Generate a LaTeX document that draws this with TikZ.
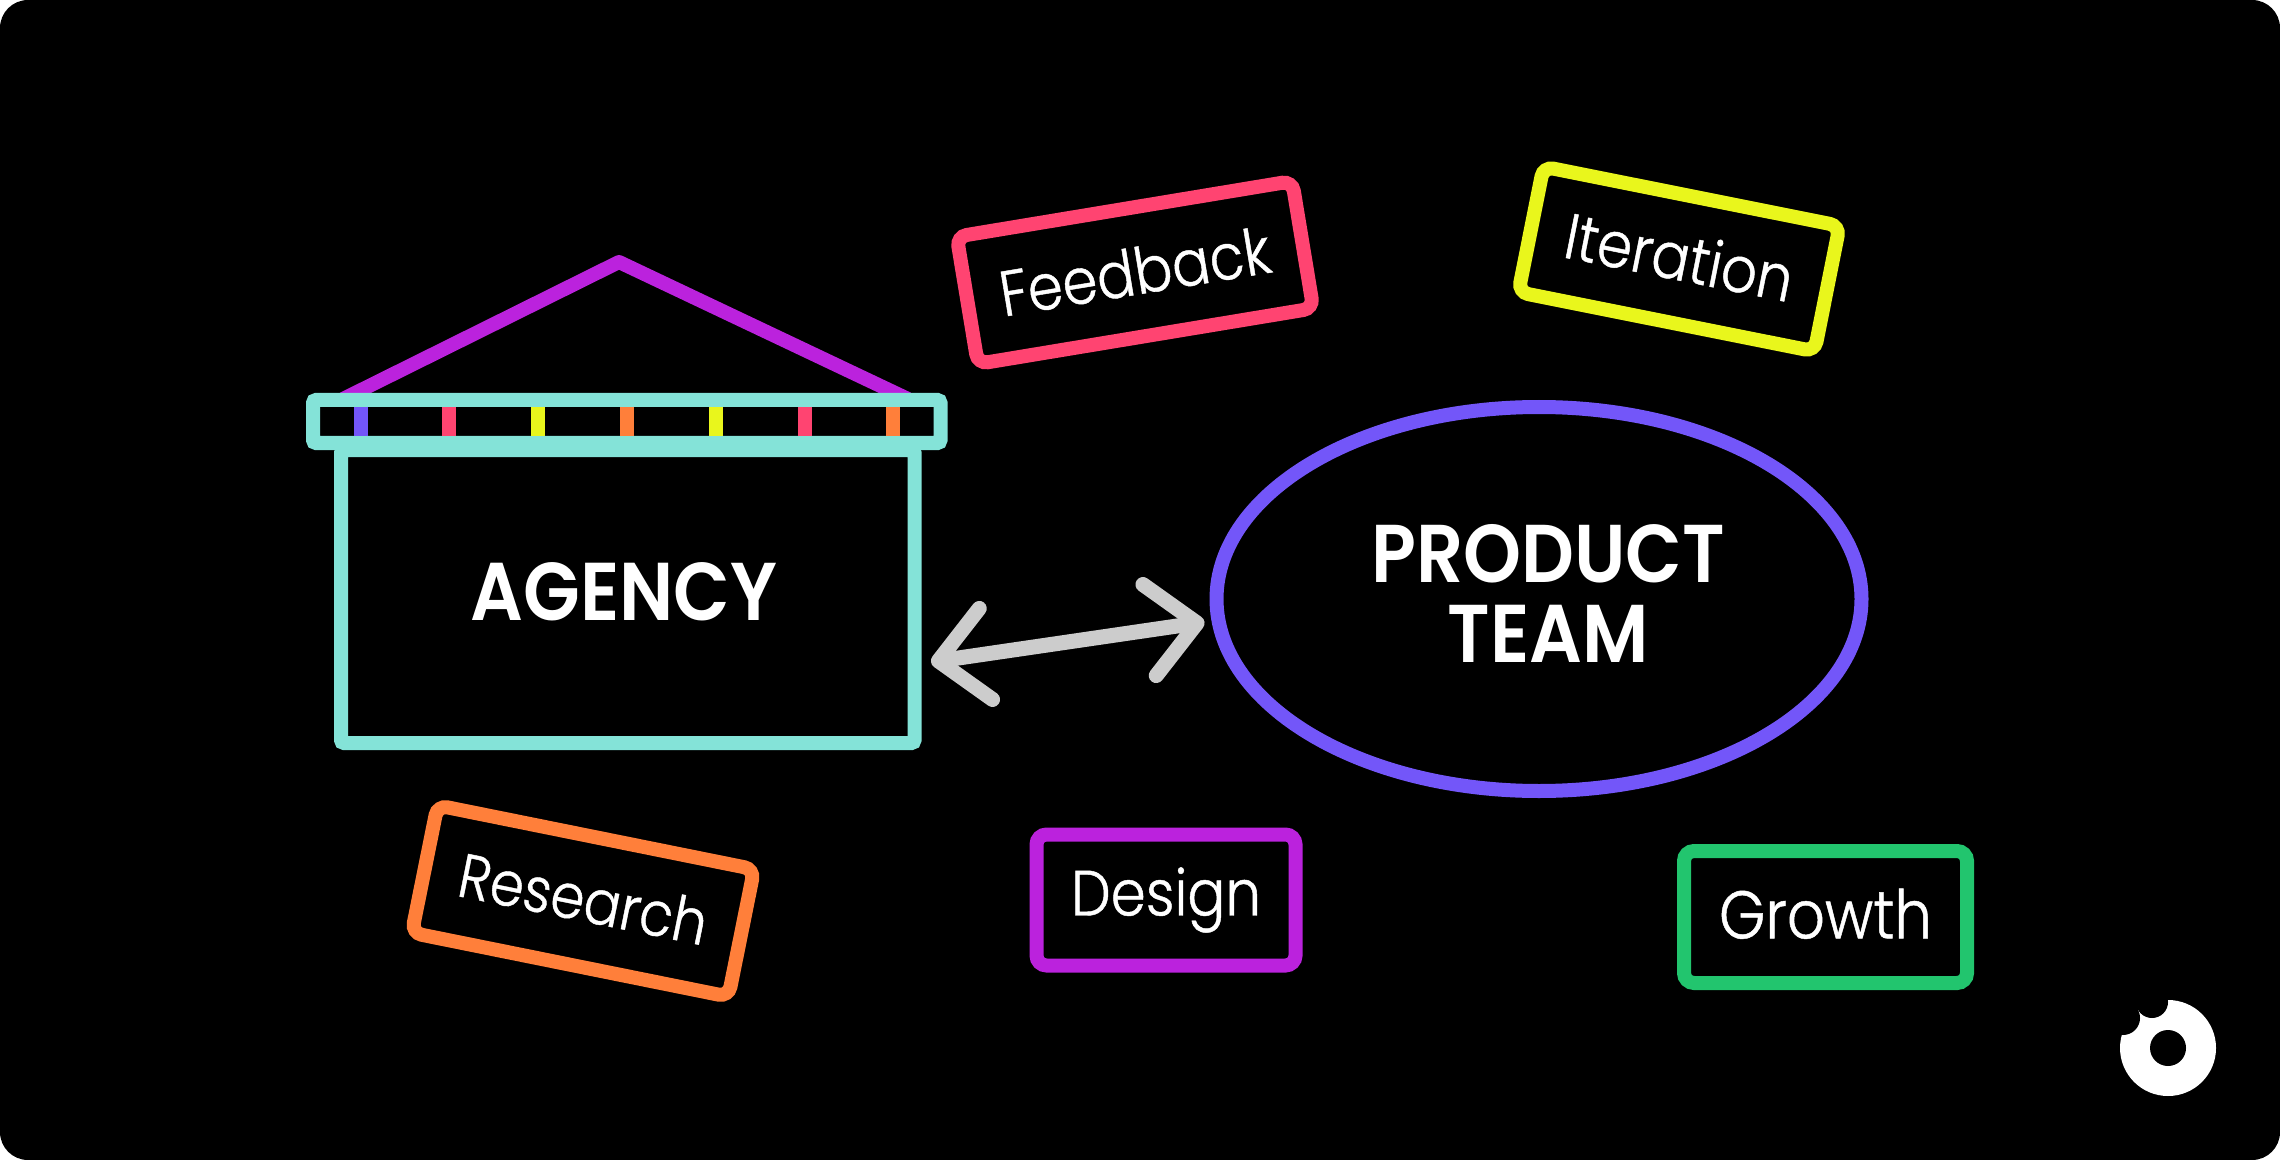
\documentclass[tikz,border=0pt]{standalone}
\usepackage{fontspec}
\usetikzlibrary{arrows.meta,shapes.geometric}
\newfontfamily\lightf{Poppins Light}[FakeStretch=0.88,FakeBold=0.7]
\newfontfamily\boldf{Poppins SemiBold}[FakeStretch=0.9]
\definecolor{cteal}{HTML}{84E3D8}
\definecolor{cpurple}{HTML}{BB22DD}
\definecolor{cpink}{HTML}{FF4471}
\definecolor{cyellow}{HTML}{E9F61C}
\definecolor{corange}{HTML}{FF7F3A}
\definecolor{cviolet}{HTML}{7356F9}
\definecolor{cgreen}{HTML}{22C56E}
\definecolor{cgrey}{HTML}{CCCCCC}
\newcommand{\tagsize}[1]{\lightf\fontsize{#1}{#1}\selectfont}
\tikzset{
  tag/.style={draw=#1,line width=7pt,rounded corners=5pt,text=white,align=center,inner sep=0pt,font=\tagsize{32}},
  structure/.style={draw=cteal,line width=7pt,rounded corners=1.5pt,inner sep=0pt},
  heading/.style={text=white,font=\boldf\fontsize{41}{40}\selectfont,align=center,inner sep=0pt},
  tickmark/.style={line width=7pt,#1},
  roofline/.style={draw=cpurple,line width=7pt,line join=round},
  arrowline/.style={draw=cgrey,line width=7.5pt,line cap=round,{Straight Barb[length=24pt,width=46pt,round]}-{Straight Barb[length=24pt,width=46pt,round]}}
}
\begin{document}
\begin{tikzpicture}[x=0.5pt,y=-0.5pt]
\useasboundingbox (0,0) rectangle (2280,1160);
\fill[white] (0,0) rectangle (2280,1160);
\fill[black,rounded corners=14pt] (0,0) rectangle (2280,1160);
% roof
\draw[roofline] (343,399) -- (619,262) -- (908,399);
% agency body
\node[structure,minimum width=286.75pt,minimum height=146.5pt] (agency) at (627.75,596.5) {};
\node[heading] (agencylabel) at (624,592) {AGENCY};
% beam
\node[structure,minimum width=313.75pt,minimum height=21.5pt] (beam) at (626.75,421.5) {};
\draw[tickmark=cviolet] (361,407) -- (361,436);
\draw[tickmark=cpink] (449,407) -- (449,436);
\draw[tickmark=cyellow] (538,407) -- (538,436);
\draw[tickmark=corange] (627,407) -- (627,436);
\draw[tickmark=cyellow] (716,407) -- (716,436);
\draw[tickmark=cpink] (805,407) -- (805,436);
\draw[tickmark=corange] (893,407) -- (893,436);
% product team
\node[ellipse,draw=cviolet,line width=7pt,minimum width=322.5pt,minimum height=192pt,inner sep=0pt] (team) at (1539,599) {};
\node[heading] (teamlabel) at (1548,593) {PRODUCT\\TEAM};
% arrow
\draw[arrowline] ([shift={(4.75pt,-32.75pt)}]agency.east) -- ([shift={(-2.5pt,-11.5pt)}]team.west);
% tags
\node[tag=cpink,minimum width=170pt,minimum height=64.5pt,rotate=9.4] (feedback) at (1135,272.5) {\raisebox{1.5pt}{Feedback}};
\node[tag=cyellow,minimum width=151pt,minimum height=64pt,rotate=-11.3] (iteration) at (1679,259) {\raisebox{3pt}{Iteration}};
\node[tag=corange,font=\tagsize{31},minimum width=161.5pt,minimum height=65pt,rotate=-11.4] (research) at (583,901) {\raisebox{3pt}{Research}};
\node[tag=cpurple,minimum width=129.5pt,minimum height=65.5pt] (design) at (1166,900) {Design};
\node[tag=cgreen,font=\tagsize{33.7},minimum width=141.5pt,minimum height=66pt] (growth) at (1825.5,917) {\raisebox{3.5pt}{Growth}};
% logo
\fill[white] (2168,1048) circle[radius=48];
\fill[black] (2168,1048) circle[radius=18];
\fill[black] (2152,1002) circle[radius=16];
\fill[black] (2123,1018) circle[radius=17];
\end{tikzpicture}
\end{document}
